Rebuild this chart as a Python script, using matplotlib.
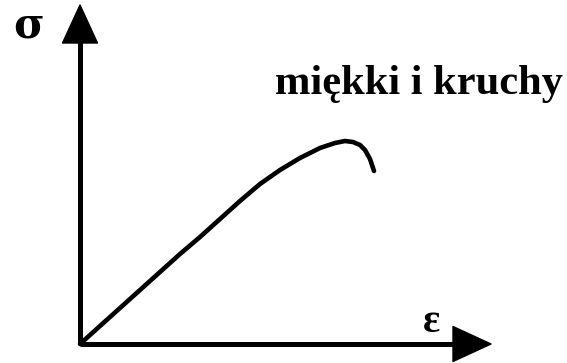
import matplotlib
matplotlib.use("Agg")
import matplotlib.pyplot as plt
from matplotlib.patches import Polygon

# stress-strain curve (arbitrary units)
strain = [0, 50, 100, 120, 140, 160, 180, 200, 220, 240, 255, 265, 273, 280, 285, 290, 294]
stress = [0, 45, 90, 107, 125, 143, 160, 174, 186, 196, 201, 203, 202, 199, 194, 185, 173]

label_curve = "miękki i kruchy"
label_x = "ε"
label_y = "σ"

fig = plt.figure(figsize=(5.67, 3.63), dpi=100)
ax = fig.add_axes([0, 0, 1, 1])
ax.set_xlim(-80, 487)
ax.set_ylim(-19, 344)
ax.axis("off")

# axes lines
x_end = 411
y_end = 339
head_len = 38
head_half = 17.5
ax.plot([0, x_end - head_len + 2], [0, 0], color="black", lw=3.6, solid_capstyle="butt")
ax.plot([0, 0], [0, y_end - head_len + 2], color="black", lw=3.6, solid_capstyle="butt")
ax.add_patch(Polygon([[x_end, 0], [x_end - head_len, head_half], [x_end - head_len, -head_half]],
                     closed=True, color="black", joinstyle="round", lw=1))
ax.add_patch(Polygon([[0, y_end], [-head_half, y_end - head_len], [head_half, y_end - head_len]],
                     closed=True, color="black", joinstyle="round", lw=1))

ax.plot(strain, stress, color="black", lw=3.3, solid_capstyle="round", solid_joinstyle="round")

ax.text(-51, 319, label_y, fontsize=30, family="DejaVu Serif", fontweight="bold",
        ha="center", va="center")
ax.text(352, 22, label_x, fontsize=29, family="Liberation Serif", fontweight="bold",
        ha="center", va="center")
ax.text(195, 250, label_curve, fontsize=30.6, family="Liberation Serif", fontweight="bold",
        ha="left", va="baseline")

fig.savefig("out.png", dpi=100)
